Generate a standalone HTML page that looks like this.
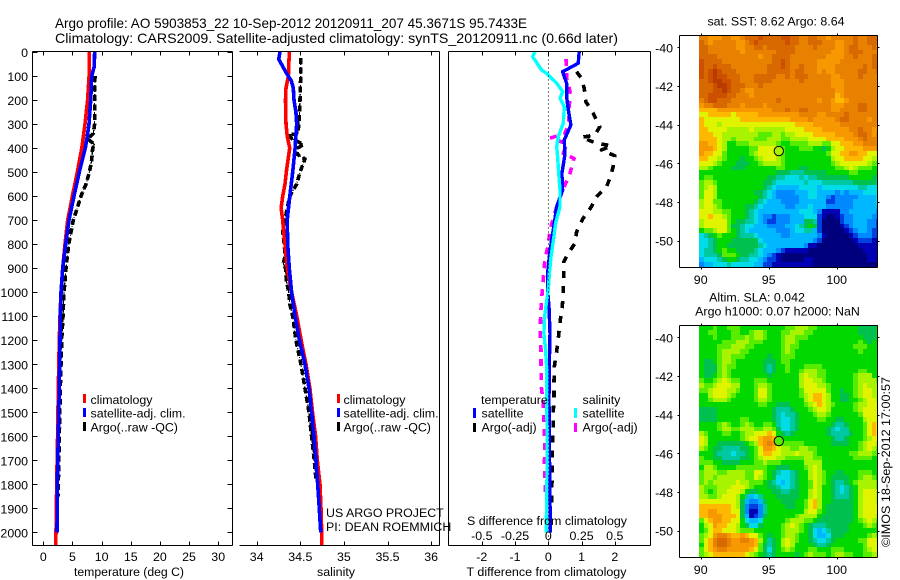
<!DOCTYPE html>
<html lang="en">
<head>
<meta charset="utf-8">
<title>Argo profile chart</title>
<style>
html,body{margin:0;padding:0;background:#fff;}
#chart{display:block;width:900px;height:580px;font-family:"Liberation Sans",sans-serif;font-size:12.4px;fill:#000;}
.tl{font-size:14px;}
.r{text-anchor:end;}
.m{text-anchor:middle;}
.box{fill:none;stroke:#000;stroke-width:1;shape-rendering:crispEdges;}
</style>
</head>
<body>
<svg id="chart" xmlns="http://www.w3.org/2000/svg" width="900" height="580" viewBox="0 0 900 580">
  <rect width="900" height="580" fill="#fff"/>
  <g id="maps"></g>
  <g id="marks"></g>
  <g id="axes"></g>

  <text class="tl" x="55" y="28" textLength="472" lengthAdjust="spacingAndGlyphs">Argo profile: AO 5903853_22 10-Sep-2012 20120911_207 45.3671S 95.7433E</text>
  <text class="tl" x="55" y="43" textLength="563" lengthAdjust="spacingAndGlyphs">Climatology: CARS2009. Satellite-adjusted climatology: synTS_20120911.nc (0.66d later)</text>

  <text class="m" x="129" y="576" textLength="110" lengthAdjust="spacingAndGlyphs">temperature (deg C)</text>
  <text class="m" x="336" y="576" textLength="38" lengthAdjust="spacingAndGlyphs">salinity</text>
  <text class="m" x="546.5" y="576" textLength="160" lengthAdjust="spacingAndGlyphs">T difference from climatology</text>
  <text class="m" x="547" y="525" textLength="160" lengthAdjust="spacingAndGlyphs">S difference from climatology</text>

  <g>
    <rect x="83" y="394" width="3" height="9" fill="#f00"/>
    <text x="90.5" y="404">climatology</text>
    <rect x="83" y="408" width="3" height="9" fill="#00f"/>
    <text x="90.5" y="417.5">satellite-adj. clim.</text>
    <rect x="83" y="422" width="3" height="9" fill="#000"/>
    <text x="90.5" y="431.5">Argo(..raw -QC)</text>
  </g>
  <g>
    <rect x="337" y="394" width="3" height="9" fill="#f00"/>
    <text x="343.5" y="404">climatology</text>
    <rect x="337" y="408" width="3" height="9" fill="#00f"/>
    <text x="343.5" y="417.5">satellite-adj. clim.</text>
    <rect x="337" y="422" width="3" height="9" fill="#000"/>
    <text x="343.5" y="431.5">Argo(..raw -QC)</text>
  </g>
  <g>
    <text x="481" y="404">temperature</text>
    <rect x="473" y="408" width="3" height="10" fill="#00f"/>
    <text x="481.5" y="417.5">satellite</text>
    <rect x="473" y="423" width="3" height="9" fill="#000"/>
    <text x="481.5" y="431.5">Argo(-adj)</text>
    <text x="582.5" y="404">salinity</text>
    <rect x="574" y="408" width="3" height="10" fill="#0ff"/>
    <text x="582.5" y="417.5">satellite</text>
    <rect x="574" y="423" width="3" height="9" fill="#f0f"/>
    <text x="582.5" y="431.5">Argo(-adj)</text>
  </g>

  <text x="326" y="517">US ARGO PROJECT</text>
  <text x="326" y="531">PI: DEAN ROEMMICH</text>

  <text class="m" x="776" y="25.5">sat. SST: 8.62 Argo: 8.64</text>
  <text class="m" x="757" y="301.5">Altim. SLA: 0.042</text>
  <text class="m" x="777.5" y="315.5">Argo h1000: 0.07 h2000: NaN</text>
  <text transform="translate(890 547) rotate(-90)" textLength="170" lengthAdjust="spacingAndGlyphs">©IMOS 18-Sep-2012 17:00:57</text>
</svg>
<script>
// ---------- axis tick values ----------
const pressureTicks = [0,100,200,300,400,500,600,700,800,900,1000,1100,1200,1300,1400,1500,1600,1700,1800,1900,2000];
const tempTicks = [0,5,10,15,20,25,30];
const salTicks = [34,34.5,35,35.5,36];
const tDiffTicks = [-2,-1,0,1,2];
const sDiffTicks = [-0.5,-0.25,0,0.25,0.5];
const lonTicks = [90,95,100];
const latTicks = [-40,-42,-44,-46,-48,-50];

// ---------- temperature profiles ----------
const climTempP = [0,100,200,300,400,500,600,700,800,900,1000,1100,1200,1400,1600,1800,2000,2054];
const climTempV = [7.9,7.85,7.6,7.15,6.6,5.83,5,4.18,3.72,3.33,3.04,2.86,2.75,2.57,2.45,2.3,2.18,2.12];
const satTempP = [0,60,100,200,300,350,400,500,600,700,800,900,1000,1100,1200,1400,1600,1800,2000];
const satTempV = [8.8,8.75,8.3,8.13,7.84,7.55,7.2,6.18,5.27,4.4,3.84,3.33,3.04,2.92,2.86,2.75,2.57,2.4,2.35];
const argoTempP = [100,200,300,340,360,385,400,450,500,550,600,650,700,800,900,1000,1100,1200,1400,1600,1800,1850];
const argoTempV = [8.87,8.8,8.8,8.58,7.6,8.75,8.47,8.3,7.9,7.33,6.47,5.83,5.15,4.35,3.9,3.55,3.38,3.15,2.92,2.75,2.57,2.55];

// ---------- salinity profiles ----------
const climSalP = [0,100,150,200,300,350,400,500,550,600,650,700,750,800,900,1000,1100,1200,1300,1400,1500,1600,1700,1800,1900,2000,2054];
const climSalV = [34.374,34.363,34.336,34.33,34.336,34.35,34.378,34.34,34.325,34.298,34.28,34.298,34.31,34.325,34.35,34.4,34.46,34.51,34.565,34.61,34.64,34.676,34.695,34.726,34.737,34.745,34.745];
const satSalP = [0,30,60,90,120,150,200,250,300,350,400,500,600,700,800,900,1000,1100,1200,1300,1400,1500,1600,1700,1800,1900,2000];
const satSalV = [34.267,34.252,34.298,34.344,34.397,34.42,34.428,34.45,34.459,34.45,34.44,34.413,34.38,34.35,34.355,34.374,34.4,34.44,34.49,34.554,34.6,34.63,34.657,34.68,34.7,34.718,34.734];
const argoSalP = [25,100,200,300,340,346,360,385,400,425,445,500,550,600,650,700,750,800,850,880,900,950,1000,1050,1100,1200,1300,1400,1500,1600,1700,1780];
const argoSalV = [34.505,34.505,34.497,34.485,34.47,34.36,34.4,34.535,34.47,34.46,34.554,34.497,34.459,34.38,34.35,34.325,34.298,34.317,34.325,34.305,34.33,34.34,34.367,34.38,34.413,34.45,34.508,34.554,34.6,34.63,34.66,34.68];

// ---------- difference profiles ----------
const satTDiffP = [0,47,82,130,186,241,304,366,429,505,575,644,713,783,852,921,991,1060,1171,1310,1449,1588,1726,1865,2000];
const satTDiffV = [0.93,0.9,0.43,0.55,0.55,0.6,0.68,0.48,0.5,0.41,0.43,0.25,0.18,0.1,0.03,-0.02,-0.02,0.02,0.05,0.03,0.02,0.03,0.04,0.05,0.06];
const argoTDiffP = [82,110,151,207,255,311,346,355,380,390,408,432,477,519,561,602,644,692,748,797,838,873,949,1019,1060,1074,1130,1192,1248,1310,1373,1435,1498,1567,1616,1699,1761,1830,1893];
const argoTDiffV = [0.85,1,1.08,1.13,1.35,1.55,1.4,1,1.45,1.9,1.6,2,1.95,1.87,1.75,1.45,1.3,1.05,0.85,0.8,0.6,0.47,0.46,0.44,0.42,0.4,0.35,0.3,0.25,0.18,0.17,0.17,0.15,0.15,0.13,0.12,0.12,0.1,0.1];
const satSDiffP = [0,19,75,89,130,165,193,228,297,352,394,436,505,575,644,713,783,852,921,991,1060,1102,1171,1241,1310,1449,1588,1726,1865,2000];
const satSDiffV = [-0.1,-0.118,-0.05,-0.013,0.063,0.108,0.088,0.12,0.113,0.075,0.063,0.07,0.078,0.088,0.088,0.055,0.038,0.02,0.008,0,-0.018,-0.028,-0.033,-0.02,-0.013,-0.013,-0.008,-0.008,-0.013,-0.015];
const argoSDiffP = [30,110,165,228,297,339,359,365,383,422,443,505,554,623,679,741,804,859,915,977,1046,1102,1171,1241,1310,1394,1449,1657,1713,1810,1850];
const argoSDiffV = [0.133,0.138,0.163,0.158,0.155,0.125,0.013,0.06,0.138,0.113,0.193,0.163,0.125,0.075,0.045,0.013,0,-0.025,-0.033,-0.043,-0.053,-0.058,-0.06,-0.055,-0.055,-0.053,-0.04,-0.025,-0.03,-0.023,-0.023];

// ---------- float position ----------
const floatLon = 95.7433;
const floatLat = -45.3671;

// ---------- colour levels of the two maps (one row per latitude band) ----------
const sstLevels = [
[14,14,13,13,13,14,14,13,13,14,15,15,15,16,15,15,15,15,16,16,15,15,14,14,15,15,14,14,13,14,14,14,14,14,15,14,14,15,15,15],
[15,14,13,14,14,14,14,14,13,13,14,15,16,15,15,15,15,15,15,16,15,15,14,14,15,15,15,14,14,14,13,13,14,14,15,14,14,15,15,15],
[15,15,14,14,14,14,14,14,13,13,14,14,15,15,14,15,15,15,15,15,15,14,14,14,14,15,14,14,14,14,13,13,14,15,15,14,14,14,15,14],
[15,15,14,14,14,14,14,14,14,13,14,14,14,14,14,14,14,15,15,15,15,14,14,14,14,14,14,14,14,13,13,13,14,15,15,15,14,14,14,14],
[15,15,15,15,14,14,14,14,14,14,14,14,14,13,14,14,15,15,15,15,14,14,14,14,14,14,14,14,13,13,13,13,14,14,15,14,14,14,15,15],
[16,15,15,15,15,14,14,14,14,14,14,14,14,14,14,14,15,15,16,15,14,14,14,14,14,14,13,13,13,13,13,14,14,14,14,14,14,14,15,15],
[16,15,15,16,15,15,15,14,14,14,14,14,14,14,14,15,15,15,16,15,14,14,15,14,14,14,13,13,13,13,14,14,14,14,14,14,15,14,15,15],
[16,15,16,17,16,15,15,15,14,14,14,14,14,14,14,15,15,15,15,15,14,15,15,14,14,14,13,14,13,13,14,14,14,14,14,15,15,14,14,15],
[16,15,16,17,16,16,15,15,15,14,14,14,15,15,15,15,15,14,14,15,14,15,15,15,14,14,14,14,14,13,13,14,14,14,14,15,14,14,14,14],
[15,15,16,17,17,16,16,15,15,14,14,14,15,15,15,15,14,14,14,14,14,14,15,14,14,14,14,14,14,13,13,13,14,14,14,14,14,14,14,14],
[15,15,15,16,17,17,16,15,15,15,14,14,14,15,14,14,14,14,14,14,14,14,14,14,14,14,14,14,14,13,13,13,14,14,14,14,14,14,14,14],
[15,15,15,16,16,17,16,15,15,14,13,13,14,14,14,14,14,14,14,14,14,14,14,14,14,14,14,14,14,14,13,13,14,14,14,14,14,14,14,14],
[15,15,16,16,16,16,15,15,14,14,14,13,14,14,14,14,14,14,14,14,14,14,14,14,14,14,14,14,14,14,12,13,14,14,14,14,14,14,14,14],
[14,15,16,16,15,15,15,14,14,14,14,14,14,14,14,14,14,15,14,14,14,14,14,14,14,14,13,14,14,13,12,12,13,14,14,14,14,14,14,14],
[13,14,14,15,15,15,14,14,14,13,14,14,14,14,13,14,14,14,14,14,14,14,14,14,14,14,14,14,14,13,13,13,14,14,14,15,15,14,14,14],
[12,12,12,12,13,13,13,13,13,13,13,13,13,13,13,13,14,14,14,15,14,14,15,15,14,14,14,14,14,13,13,14,14,14,14,15,15,14,14,14],
[11,11,12,12,12,12,12,11,12,12,12,12,12,13,13,13,13,13,13,13,13,13,14,14,14,14,13,13,14,14,14,14,15,14,14,14,14,14,14,14],
[12,11,11,11,11,11,11,11,11,12,12,12,12,12,12,12,12,12,12,12,13,13,13,13,14,13,13,13,13,13,14,15,15,14,14,14,14,13,14,14],
[12,11,11,11,10,11,11,11,11,11,11,11,11,11,11,11,11,11,11,11,11,12,12,12,12,13,13,13,13,13,13,14,14,14,14,14,14,14,14,14],
[12,12,11,11,11,11,10,10,10,10,10,11,10,10,10,10,10,10,10,11,11,11,11,12,12,12,12,13,13,13,13,13,13,14,14,15,14,14,13,13],
[12,12,12,11,11,10,10,10,10,10,10,10,10,9,9,9,10,10,9,10,10,11,11,11,11,12,12,12,12,12,13,13,13,13,14,15,15,14,13,14],
[12,12,12,12,11,10,10,9,10,10,10,10,9,9,9,10,10,10,9,9,10,10,10,10,11,11,11,11,12,12,12,12,13,13,13,14,15,14,14,14],
[13,13,12,12,11,10,8,8,9,9,9,10,10,10,10,10,10,9,8,8,9,9,9,9,10,10,10,9,9,11,11,12,12,12,13,13,14,14,14,14],
[13,13,13,12,11,10,8,8,8,8,8,9,9,11,11,11,11,10,9,8,8,8,9,9,9,8,8,7,8,10,11,11,12,12,12,12,13,13,13,14],
[13,12,12,11,11,9,8,8,8,8,8,9,10,11,11,11,11,10,9,8,8,8,8,8,8,8,8,8,9,11,11,12,12,13,13,12,12,11,11,11],
[12,12,11,11,10,9,8,8,8,7,8,8,9,10,11,11,11,10,9,8,8,8,8,8,8,8,8,8,8,10,11,11,12,12,12,12,11,11,10,10],
[11,11,11,10,9,8,8,8,7,7,7,8,8,9,10,10,10,10,9,8,8,8,8,8,8,8,8,8,8,9,10,11,11,11,11,11,11,10,9,9],
[10,10,9,8,8,8,8,7,7,7,8,8,8,8,8,8,8,9,9,8,8,8,7,7,8,8,8,8,8,8,9,9,10,11,10,9,9,9,8,8],
[8,8,8,8,8,8,8,8,8,8,8,8,8,8,8,8,8,7,7,7,6,6,6,7,7,7,7,7,8,8,8,8,8,9,9,8,8,8,8,8],
[8,9,9,8,8,8,8,8,8,8,8,8,8,8,8,7,7,6,6,5,5,5,6,5,6,6,7,7,7,7,7,7,7,8,8,8,8,8,7,7],
[9,10,10,9,8,8,8,8,8,8,8,8,8,8,7,7,6,5,5,5,5,5,5,6,5,5,5,6,6,6,6,6,6,6,7,7,7,7,7,6],
[9,10,11,10,8,8,8,8,8,8,8,8,8,8,7,6,5,4,4,4,4,4,5,5,5,5,4,5,5,5,5,5,5,5,5,6,6,5,5,5],
[9,11,11,10,8,8,8,8,8,8,8,8,7,7,6,5,4,3,3,3,3,4,4,4,5,5,4,4,4,4,3,4,3,4,4,4,5,5,5,5],
[9,11,11,10,8,8,8,8,8,8,8,8,8,7,6,5,4,3,3,3,3,3,4,4,5,5,4,4,3,2,3,3,3,3,3,4,4,4,4,5],
[10,11,11,9,9,8,8,8,8,8,8,8,7,6,5,4,4,4,3,3,3,3,4,4,4,4,4,4,2,2,3,3,3,3,4,4,4,4,4,5],
[10,11,11,10,9,8,8,8,8,8,7,7,6,5,4,4,4,4,4,3,3,4,4,4,5,4,4,4,3,3,3,3,3,3,4,4,4,4,4,4],
[11,11,11,10,10,9,9,8,8,8,7,6,5,4,4,4,4,4,4,4,4,4,5,5,5,4,3,1,1,1,1,3,3,4,4,4,4,4,4,3],
[11,11,12,11,11,10,9,8,8,8,7,6,5,4,3,3,2,3,3,3,4,4,4,5,5,5,2,1,0,0,1,2,3,3,4,4,4,4,3,3],
[10,11,11,11,11,11,9,8,7,7,6,6,5,4,3,2,2,3,3,3,4,4,4,7,7,6,2,0,0,0,0,2,3,3,4,4,4,3,3,2],
[10,11,11,11,11,11,9,7,7,6,5,5,4,4,4,3,3,3,3,4,4,5,6,7,8,7,2,0,0,0,0,1,2,3,4,4,4,3,3,2],
[8,9,9,10,11,11,9,8,7,6,5,4,4,4,4,4,4,3,3,3,4,5,5,6,6,4,2,0,0,0,0,0,1,2,3,4,4,3,2,2],
[5,6,7,8,9,8,8,8,7,6,6,6,5,4,4,4,4,4,3,3,4,4,4,4,4,4,3,1,0,0,0,0,0,1,2,3,3,3,2,2],
[5,5,6,7,8,8,8,7,7,7,7,7,7,5,4,4,4,4,4,4,4,4,4,4,4,3,2,0,0,0,0,0,0,0,1,2,2,2,1,1],
[5,5,6,7,8,8,7,7,7,7,7,7,7,6,5,4,4,4,4,4,4,4,4,3,1,1,0,0,0,0,0,0,0,0,0,1,1,1,1,1],
[5,6,6,7,8,9,8,8,7,7,7,7,6,5,4,4,4,3,2,1,1,1,1,1,0,0,0,0,0,0,0,0,0,0,0,0,1,1,1,1],
[5,6,6,6,7,9,9,9,8,7,7,6,6,5,4,3,2,1,0,0,0,0,0,0,0,0,0,0,0,0,0,0,0,0,0,0,0,1,1,1],
[4,5,5,5,6,7,8,8,7,6,6,5,5,4,3,2,2,1,0,0,0,0,0,1,1,0,0,0,0,0,0,0,0,0,0,0,0,1,1,1],
[3,4,4,5,5,5,6,5,5,5,5,5,4,4,2,2,1,1,1,1,1,1,1,1,1,0,0,0,0,0,0,0,0,0,0,0,0,0,0,0]
];
const slaLevels = [
[8,8,8,9,8,8,9,9,9,8,8,8,8,8,8,8,8,8,8,9,9,10,10,10,9,9,8,8,8,8,8,8,8,8,8,7,7,7,7,8],
[8,8,9,9,8,8,8,9,9,8,8,9,10,10,9,8,8,8,9,9,10,10,10,9,9,8,8,8,8,8,8,8,8,8,8,7,7,7,7,8],
[8,8,8,9,8,8,8,9,9,9,10,9,10,10,9,8,8,8,9,10,10,9,9,9,8,8,8,8,8,8,8,8,8,8,8,8,7,7,7,8],
[8,8,8,8,8,9,9,9,10,10,10,9,9,9,8,8,8,8,9,10,10,9,8,8,8,8,8,8,8,8,8,8,8,8,8,9,8,7,8,8],
[8,8,8,8,9,9,9,10,10,10,9,9,8,8,8,8,8,8,9,10,9,9,8,8,8,8,8,8,8,8,8,8,8,8,9,9,9,8,8,8],
[8,8,8,8,9,10,10,10,10,9,9,8,8,8,8,8,8,8,9,10,9,8,8,8,8,8,8,8,8,8,8,8,8,8,8,9,8,8,8,8],
[8,8,8,8,9,10,10,9,9,9,8,8,8,8,8,7,8,8,9,9,9,8,8,8,8,8,8,8,8,8,8,8,8,8,8,8,8,8,8,8],
[8,7,7,8,9,10,10,9,8,8,8,8,8,8,7,7,7,8,9,9,8,8,8,8,8,8,8,8,8,8,8,8,8,8,8,8,8,8,8,8],
[8,7,7,7,9,10,9,9,8,8,8,8,8,8,7,6,7,8,8,9,8,8,8,9,9,9,9,8,8,8,8,8,8,8,8,8,8,8,8,8],
[8,7,7,7,9,10,9,8,8,8,8,8,8,8,7,6,7,8,8,9,8,8,9,10,10,10,9,9,8,8,8,8,8,8,8,9,9,8,8,8],
[8,7,7,8,9,10,9,8,8,8,8,8,8,8,8,7,8,8,8,8,8,8,10,11,10,10,9,9,8,8,8,8,8,8,9,10,10,10,8,8],
[9,8,8,9,10,11,10,9,9,8,8,8,9,9,9,8,8,8,8,8,8,8,10,11,11,10,10,9,8,8,8,8,8,8,9,10,10,10,10,9],
[10,9,9,10,11,11,11,10,10,8,8,8,9,10,10,9,8,8,8,8,8,8,10,11,11,11,10,10,9,8,8,8,8,8,9,10,11,10,10,10],
[9,9,10,11,11,11,10,10,9,8,8,8,9,11,11,9,8,8,8,8,8,8,9,11,11,11,11,11,9,8,8,7,8,8,9,10,11,11,10,10],
[8,8,10,11,11,11,10,9,8,8,8,8,9,11,11,9,8,8,8,8,8,8,9,10,11,12,12,11,10,8,8,7,7,8,9,10,11,11,10,10],
[8,8,9,10,10,10,9,8,8,8,8,8,9,10,10,9,8,8,8,8,8,8,8,10,11,12,12,11,10,8,8,7,7,8,8,9,10,11,11,10],
[8,8,8,8,8,8,8,8,8,8,8,8,8,9,9,8,8,7,7,7,8,8,8,9,10,11,12,11,10,9,8,8,8,8,9,10,10,11,11,11],
[7,7,7,7,8,8,8,8,8,8,8,8,8,8,8,8,7,6,6,6,7,8,8,8,9,10,11,11,10,8,8,8,8,8,9,10,11,11,11,11],
[7,7,7,7,8,8,8,8,8,8,8,8,8,8,8,8,7,6,5,6,6,7,8,8,8,9,10,10,9,8,8,8,8,8,8,9,11,11,11,11],
[7,7,7,7,8,8,8,8,8,9,9,8,8,8,8,8,7,6,5,5,6,7,8,8,8,8,9,9,8,8,7,7,8,8,8,8,10,11,11,11],
[8,8,8,8,9,10,9,8,8,9,10,9,8,8,9,9,8,6,5,5,6,7,8,8,8,8,8,8,8,7,6,6,7,8,8,8,9,11,12,11],
[8,8,8,8,9,10,10,9,9,10,10,10,9,9,10,10,9,7,5,5,6,7,8,8,8,8,8,8,7,6,5,6,6,8,8,8,9,11,12,11],
[10,9,8,8,8,9,9,8,8,9,10,10,11,11,11,12,11,8,7,6,7,8,8,8,8,8,8,8,7,6,6,6,6,7,8,8,9,11,12,11],
[11,10,8,8,8,8,8,8,8,9,10,11,11,12,13,13,12,9,8,8,8,8,8,8,8,8,8,8,8,7,6,6,7,8,8,8,9,10,11,11],
[11,10,8,8,7,7,7,7,7,7,8,9,10,12,13,14,13,10,9,9,9,9,9,8,8,8,8,8,8,7,7,7,7,8,8,9,10,11,11,10],
[10,9,8,7,7,6,6,6,6,7,7,8,9,11,13,13,12,11,10,10,9,9,10,10,9,9,8,8,8,8,8,8,8,8,8,9,10,11,10,9],
[8,8,8,7,6,6,6,5,6,6,7,8,9,11,12,12,11,11,10,10,10,11,10,10,10,9,8,8,8,8,8,8,8,9,9,10,10,10,9,9],
[9,8,8,7,7,6,6,6,6,7,7,8,9,10,11,11,11,10,10,9,9,9,9,10,10,9,9,8,8,8,8,8,8,8,9,9,9,9,8,8],
[9,9,9,8,8,7,7,7,7,8,8,8,9,9,10,9,9,9,8,8,8,8,8,10,10,10,10,8,8,8,8,8,8,8,8,8,8,8,8,8],
[8,10,10,9,8,8,8,8,9,9,9,9,9,9,9,8,8,7,7,7,8,8,8,9,10,11,10,8,8,8,8,8,8,8,8,8,8,8,8,8],
[9,10,10,10,9,9,10,10,10,10,9,9,11,11,9,8,7,6,5,5,6,7,8,8,10,11,10,9,8,8,7,7,8,8,8,9,9,9,8,8],
[9,10,10,9,10,10,10,10,10,10,9,9,11,10,9,8,7,5,5,5,6,7,8,8,10,11,10,9,8,7,7,7,7,8,8,9,10,10,9,8],
[9,10,9,10,10,10,10,10,11,10,10,9,9,9,8,7,6,5,4,5,6,7,8,8,9,11,10,9,8,7,6,6,7,8,9,10,10,10,10,9],
[10,9,9,9,10,10,10,11,11,11,10,9,8,8,8,7,7,6,5,5,6,7,8,8,9,11,10,8,8,7,6,5,6,7,8,10,10,10,10,9],
[10,9,8,9,10,10,11,11,11,10,8,7,7,8,8,8,7,7,6,6,7,7,8,8,10,11,10,8,8,7,6,5,6,7,8,10,11,11,11,10],
[10,10,9,9,10,11,11,11,10,8,6,4,5,6,8,8,8,7,7,7,7,7,8,8,10,11,10,8,8,7,6,6,6,7,8,10,11,11,11,10],
[11,11,11,11,11,11,11,11,10,7,4,3,3,4,7,8,8,8,7,7,7,8,8,9,11,12,10,8,8,7,7,7,7,7,8,10,11,11,11,10],
[12,12,12,12,12,12,12,11,10,7,3,2,2,3,6,8,8,8,8,7,7,8,8,9,11,12,10,8,7,7,7,7,7,7,8,10,11,11,11,11],
[12,12,13,13,12,12,12,11,11,7,3,1,1,3,6,8,8,8,8,8,8,8,8,10,11,11,9,8,7,7,7,7,7,7,8,10,11,11,11,11],
[12,12,13,13,13,12,12,12,11,7,4,1,2,3,7,8,8,8,8,8,8,9,10,10,10,10,8,7,7,7,7,7,7,7,8,10,11,11,11,10],
[9,11,12,13,13,12,12,11,11,8,5,4,4,5,8,8,8,8,8,9,10,10,10,9,9,8,7,7,7,7,7,7,7,7,8,9,10,11,10,9],
[8,10,11,13,12,12,11,11,10,8,7,5,5,7,8,8,8,8,9,10,11,10,9,8,7,6,6,6,7,7,7,7,7,8,8,8,9,10,9,8],
[8,9,11,12,12,11,11,11,10,9,9,9,8,8,8,8,8,8,9,10,10,10,9,8,7,5,4,5,6,7,7,7,7,8,8,8,8,8,8,8],
[9,10,11,13,14,14,13,12,12,13,12,11,11,9,8,7,8,8,9,10,10,9,8,8,7,5,4,4,5,7,7,7,8,8,8,8,8,9,10,9],
[9,11,12,14,15,15,14,13,13,14,14,13,12,10,8,6,7,8,10,11,10,9,8,8,7,6,5,5,6,7,8,8,8,8,8,9,9,11,11,11],
[8,11,12,14,15,15,14,13,13,13,13,13,12,9,7,6,7,8,10,11,10,8,8,8,8,7,6,6,7,8,8,8,8,8,8,8,9,11,11,11],
[9,11,12,13,14,14,13,13,13,13,13,12,11,9,7,5,7,8,9,10,9,8,8,8,9,9,8,8,8,9,9,9,8,8,8,8,9,10,11,11],
[9,10,11,12,12,12,12,12,12,12,11,10,9,8,7,6,7,8,8,8,8,7,8,9,10,9,9,9,8,9,10,10,9,9,8,8,9,9,10,10]
];
const levelColors = ['#00007c','#0000b4','#0040e0','#0088ff','#00b8ff','#00dce8','#00c8a0','#00c050','#00d800','#58ec00','#a8f400','#e0f400','#ffb800','#f89800','#e88000','#d86800','#cc5000','#b83c00'];

const NS = 'http://www.w3.org/2000/svg';
const marksLayer = document.getElementById('marks');
const axesLayer = document.getElementById('axes');
const mapsLayer = document.getElementById('maps');

// ---------- axis functions ----------
function yP(p){ return 52 + p * 0.2402; }
function xTemp(t){ return 43.3 + t * 5.83; }
function xSal(s){ return 256.7 + (s - 34) * 87.2; }
function xTDiff(d){ return 548.3 + d * 33.25; }
function xSDiff(d){ return 548.3 + d * 133; }
function xLon(lon){ return 700.7 + (lon - 90) * 13.6; }
function ySstLat(lat){ return 47.3 + (-40 - lat) * 19.33; }
function ySlaLat(lat){ return 337.3 + (-40 - lat) * 19.33; }

function drawLine(parent, name, ps, vs, xf, color, width, dash){
  const el = document.createElementNS(NS, 'polyline');
  
  
  el.setAttribute('points', ps.map(function(p, i){ return xf(vs[i]).toFixed(1) + ',' + yP(p).toFixed(1); }).join(' '));
  el.setAttribute('fill', 'none');
  el.setAttribute('stroke', color);
  el.setAttribute('stroke-width', width);
  el.setAttribute('stroke-linejoin', 'round');
  el.setAttribute('shape-rendering', 'crispEdges');
  if (dash) { el.setAttribute('stroke-dasharray', dash); }
  parent.appendChild(el);
}
function drawArgo(name, ps, vs, xf){
  drawLine(marksLayer, name + '-thin', ps, vs, xf, '#000', 1.2, '4 2 1 2');
  drawLine(marksLayer, name, ps, vs, xf, '#000', 3.6, '6 3.5');
}

// ---------- profiles ----------
drawArgo('temperature-argo-line', argoTempP, argoTempV, xTemp);
drawLine(marksLayer, 'temperature-climatology-line', climTempP, climTempV, xTemp, '#f00', 3.6);
drawLine(marksLayer, 'temperature-satellite-line', satTempP, satTempV, xTemp, '#00f', 3.6);
drawArgo('salinity-argo-line', argoSalP, argoSalV, xSal);
drawLine(marksLayer, 'salinity-climatology-line', climSalP, climSalV, xSal, '#f00', 3.6);
drawLine(marksLayer, 'salinity-satellite-line', satSalP, satSalV, xSal, '#00f', 3.6);
drawLine(marksLayer, 't-diff-argo-line', argoTDiffP, argoTDiffV, xTDiff, '#000', 3.6, '7 8');
drawLine(marksLayer, 's-diff-argo-line', argoSDiffP, argoSDiffV, xSDiff, '#f0f', 3.6, '7 7');
drawLine(marksLayer, 't-diff-satellite-line', satTDiffP, satTDiffV, xTDiff, '#00f', 3.4);
drawLine(marksLayer, 's-diff-satellite-line', satSDiffP, satSDiffV, xSDiff, '#0ff', 3.4);

// ---------- generic axis pieces ----------
function seg(name, x1, y1, x2, y2){
  const el = document.createElementNS(NS, 'line');
  
  
  el.setAttribute('x1', x1);
  el.setAttribute('y1', y1);
  el.setAttribute('x2', x2);
  el.setAttribute('y2', y2);
  el.setAttribute('stroke', '#000');
  el.setAttribute('stroke-width', 1);
  el.setAttribute('shape-rendering', 'crispEdges');
  axesLayer.appendChild(el);
  return el;
}
function label(name, x, y, str, cls){
  const el = document.createElementNS(NS, 'text');
  
  
  el.setAttribute('x', x);
  el.setAttribute('y', y);
  if (cls) { el.setAttribute('class', cls); }
  el.textContent = str;
  axesLayer.appendChild(el);
}
const rd = function(v){ return Math.round(v) + 0.5; };
const TOP = 51.5, BOT = 545.5;

// panel frames
seg('temperature-panel-top', 32.5, TOP, 232.5, TOP);
seg('temperature-panel-bottom', 32.5, BOT, 232.5, BOT);
seg('temperature-panel-left', 32.5, TOP, 32.5, BOT);
seg('temperature-panel-right', 232.5, TOP, 232.5, BOT);
seg('salinity-panel-top', 239.5, TOP, 439.5, TOP);
seg('salinity-panel-bottom', 239.5, BOT, 439.5, BOT);
seg('salinity-panel-right', 439.5, TOP, 439.5, BOT);
seg('difference-panel-top', 448.5, TOP, 650.5, TOP);
seg('difference-panel-bottom', 448.5, BOT, 650.5, BOT);
seg('difference-panel-left', 448.5, TOP, 448.5, BOT);
seg('difference-panel-right', 650.5, TOP, 650.5, BOT);

// zero reference of the difference panel
const zeroLine = seg('difference-zero-line', rd(xTDiff(0)), TOP, rd(xTDiff(0)), BOT);
zeroLine.setAttribute('stroke-dasharray', '1 3');

// pressure axis
pressureTicks.forEach(function(p){
  const y = rd(yP(p));
  seg('pressure-tick-left', 32.5, y, 37.5, y);
  seg('pressure-tick-right', 227.5, y, 232.5, y);
  label('pressure-tick-label', 28, yP(p) + 5, String(p), 'r');
});

// temperature axis
tempTicks.forEach(function(v){
  const x = rd(xTemp(v));
  seg('temperature-tick-top', x, TOP, x, TOP + 4);
  seg('temperature-tick-bottom', x, BOT - 4, x, BOT);
  label('temperature-tick-label', xTemp(v), 561, String(v), 'm');
});

// salinity axis
salTicks.forEach(function(v){
  const x = rd(xSal(v));
  seg('salinity-tick-top', x, TOP, x, TOP + 4);
  seg('salinity-tick-bottom', x, BOT - 4, x, BOT);
  label('salinity-tick-label', xSal(v), 561, String(v), 'm');
});

// difference axes
tDiffTicks.forEach(function(v){
  const x = rd(xTDiff(v));
  seg('t-diff-tick-top', x, TOP, x, TOP + 4);
  seg('t-diff-tick-bottom', x, BOT - 4, x, BOT);
  label('t-diff-tick-label', xTDiff(v), 561, String(v), 'm');
});
sDiffTicks.forEach(function(v){
  label('s-diff-tick-label', xSDiff(v), 540, String(v), 'm');
});

// ---------- maps ----------
const lonStep = 1 / 3;
const latStep = 0.25;
const lonStart = 89.9;
const latStart = -39.37;
function drawMap(name, levels, yLat){
  const g = document.createElementNS(NS, 'g');
  
  
  levels.forEach(function(row, r){
    row.forEach(function(level, c){
      const cell = document.createElementNS(NS, 'rect');
      
      
      const x0 = xLon(lonStart + c * lonStep);
      const x1 = Math.min(xLon(lonStart + (c + 1) * lonStep), xLon(103));
      const y0 = yLat(latStart - r * latStep);
      const y1 = yLat(latStart - (r + 1) * latStep);
      cell.setAttribute('x', Math.round(x0));
      cell.setAttribute('y', Math.round(y0));
      cell.setAttribute('width', Math.round(x1) - Math.round(x0));
      cell.setAttribute('height', Math.round(y1) - Math.round(y0));
      cell.setAttribute('fill', levelColors[Math.max(0, Math.min(levelColors.length - 1, level))]);
      cell.setAttribute('shape-rendering', 'crispEdges');
      g.appendChild(cell);
    });
  });
  mapsLayer.appendChild(g);
}
drawMap('sst-map', sstLevels, ySstLat);
drawMap('sla-map', slaLevels, ySlaLat);

function mapAxes(prefix, top, bottom, yLat, labelY, marker){
  const L = 679.5, R = 877.5;
  seg(prefix + '-frame-top', L, top, R, top);
  seg(prefix + '-frame-bottom', L, bottom, R, bottom);
  seg(prefix + '-frame-left', L, top, L, bottom);
  seg(prefix + '-frame-right', R, top, R, bottom);
  lonTicks.forEach(function(v){
    const x = rd(xLon(v));
    seg(prefix + '-lon-tick-top', x, top - 2, x, top);
    seg(prefix + '-lon-tick-bottom', x, bottom, x, bottom + 2);
    label(prefix + '-lon-label', xLon(v), labelY, String(v), 'm');
  });
  latTicks.forEach(function(v){
    const y = rd(yLat(v));
    seg(prefix + '-lat-tick-left', L - 2, y, L, y);
    seg(prefix + '-lat-tick-right', R, y, R + 2, y);
    label(prefix + '-lat-label', 673, yLat(v) + 5, String(v), 'r');
  });
  const c = document.createElementNS(NS, 'circle');
  
  
  c.setAttribute('cx', xLon(floatLon));
  c.setAttribute('cy', yLat(floatLat));
  c.setAttribute('r', 4.7);
  c.setAttribute('fill', marker);
  c.setAttribute('stroke', '#000');
  c.setAttribute('stroke-width', 1);
  axesLayer.appendChild(c);
}
mapAxes('sst-map', 35.5, 267.5, ySstLat, 284, levelColors[10]);
mapAxes('sla-map', 325.5, 557.5, ySlaLat, 574, levelColors[9]);
</script>
</body>
</html>
